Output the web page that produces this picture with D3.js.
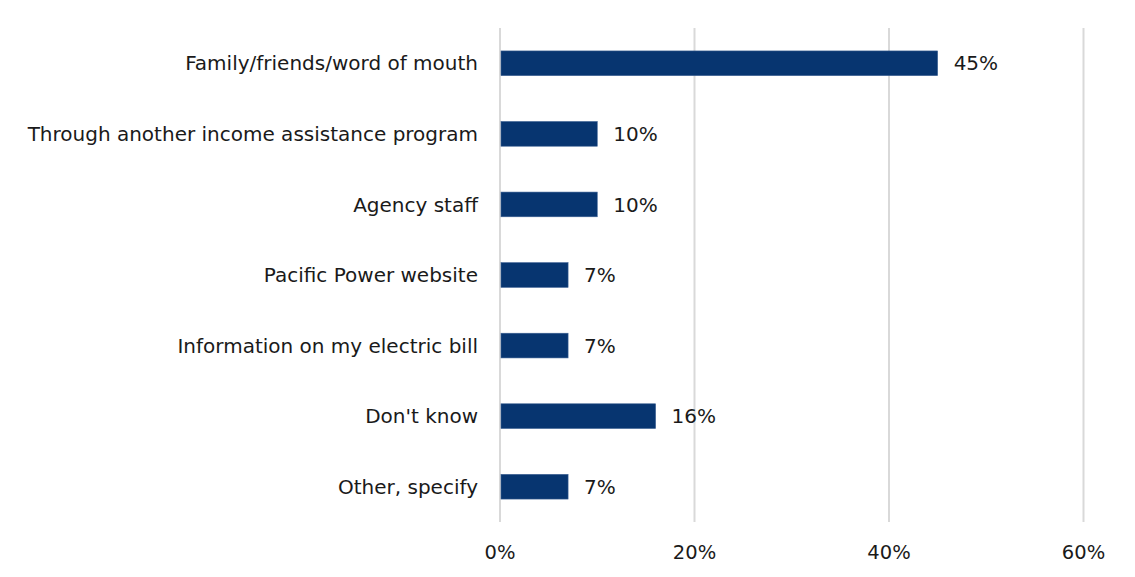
<!DOCTYPE html>
<html>
<head>
<meta charset="utf-8">
<script src="https://cdn.jsdelivr.net/npm/d3@7"></script>
<style>
  html, body { margin: 0; padding: 0; background: #ffffff; }
  svg text { font-family: "DejaVu Sans", "Liberation Sans", Arial, sans-serif; fill: #1a1a1a; }
</style>
</head>
<body>
<svg id="chart" width="1135" height="577"></svg>
<script>
// Where respondents heard about the program
const categories = [
  "Family/friends/word of mouth",
  "Through another income assistance program",
  "Agency staff",
  "Pacific Power website",
  "Information on my electric bill",
  "Don't know",
  "Other, specify"
];
const shares = [45, 10, 10, 7, 7, 16, 7];
const tickValues = [0, 20, 40, 60];
const tickLabels = ["0%", "20%", "40%", "60%"];

const svg = d3.select("#chart");
const plotLeft = 500, plotRight = 1083.5, plotTop = 28, plotBottom = 522;

const x = d3.scaleLinear().domain([0, 60]).range([plotLeft, plotRight]);
const y = d3.scaleBand().domain(categories).range([plotTop, plotBottom]).paddingInner(0.65).paddingOuter(0.325);

// vertical gridlines
svg.append("g")
  .selectAll("line")
  .data(tickValues)
  .join("line")
  .attr("x1", d => x(d)).attr("x2", d => x(d))
  .attr("y1", plotTop).attr("y2", plotBottom)
  .attr("stroke", "#d9d9d9")
  .attr("stroke-width", 2);

// x-axis tick labels
svg.append("g")
  .selectAll("text")
  .data(tickValues)
  .join("text")
  .attr("x", d => x(d))
  .attr("y", 559)
  .attr("text-anchor", "middle")
  .style("font-size", "19.5px")
  .text((d, i) => tickLabels[i]);

// bars
svg.append("g")
  .selectAll("rect")
  .data(shares)
  .join("rect")
  .attr("x", x(0) + 1)
  .attr("y", (d, i) => y(categories[i]))
  .attr("width", d => x(d) - x(0) - 1)
  .attr("height", y.bandwidth())
  .attr("fill", "#073570")
  .attr("stroke", "#3a5f92")
  .attr("stroke-width", 0.6);

// value labels
svg.append("g")
  .selectAll("text")
  .data(shares)
  .join("text")
  .attr("x", d => x(d) + 16)
  .attr("y", (d, i) => y(categories[i]) + y.bandwidth() / 2)
  .attr("dy", "0.36em")
  .style("font-size", "20px")
  .text(d => d + "%");

// category labels
svg.append("g")
  .selectAll("text")
  .data(categories)
  .join("text")
  .attr("x", 478)
  .attr("y", d => y(d) + y.bandwidth() / 2)
  .attr("dy", "0.36em")
  .attr("text-anchor", "end")
  .style("font-size", "20px")
  .text(d => d);
</script>
</body>
</html>
